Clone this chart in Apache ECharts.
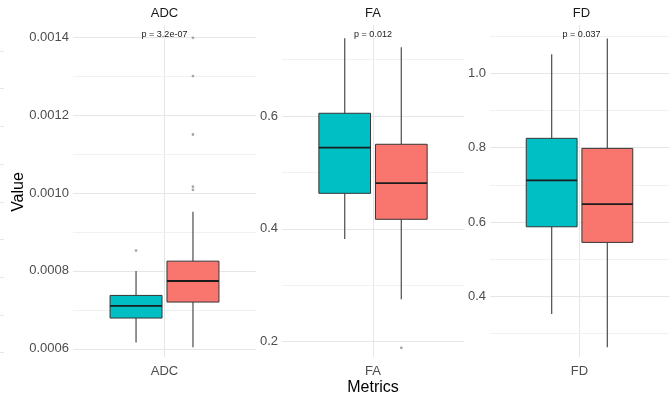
<!DOCTYPE html>
<html>
<head>
<meta charset="utf-8">
<script src="https://cdn.jsdelivr.net/npm/echarts@6/dist/echarts.min.js"></script>
<style>
  html, body { margin: 0; padding: 0; background: #ffffff; }
  #chart { width: 669px; height: 396px; }
</style>
</head>
<body>
<div id="chart"></div>
<script>
// ---- data ---------------------------------------------------------------
const metrics = ['ADC', 'FA', 'FD'];
const pLabels = ['p = 3.2e-07', 'p = 0.012', 'p = 0.037'];

// five-number summaries per group: [lower whisker, Q1, median, Q3, upper whisker]
const adcGroupA = [0.000616, 0.000679, 0.000710, 0.000737, 0.000800];
const adcGroupB = [0.000604, 0.000720, 0.000774, 0.000825, 0.000952];
const faGroupA  = [0.382, 0.463, 0.544, 0.605, 0.738];
const faGroupB  = [0.275, 0.417, 0.481, 0.550, 0.722];
const fdGroupA  = [0.352, 0.587, 0.712, 0.825, 1.051];
const fdGroupB  = [0.263, 0.545, 0.648, 0.798, 1.094];

// points beyond the whiskers
const adcOutA = [0.000852];
const adcOutB = [0.001398, 0.001300, 0.001150, 0.001016, 0.001008];
const faOutA  = [];
const faOutB  = [0.189];
const fdOutA  = [];
const fdOutB  = [];

// ---- layout & style -----------------------------------------------------
const boxesByPanel = [[adcGroupA, adcGroupB], [faGroupA, faGroupB], [fdGroupA, fdGroupB]];
const outliersByPanel = [[adcOutA, adcOutB], [faOutA, faOutB], [fdOutA, fdOutB]];
const groupColors = ['#00BFC4', '#F8766D'];

const panelLeft = [73, 282, 490];
const panelWidth = [183, 182, 183];
const panelTop = 25;
const panelHeight = 332;
const yRange = [[0.000579, 0.001431], [0.1728, 0.7615], [0.2366, 1.130]];
const ySplit = [4, 3, 4];        // gives major steps of 0.0002 / 0.2 / 0.2
const ySplitMinor = [8, 5, 8];   // gives minor steps of 0.0001 / 0.1 / 0.1
const yDecimals = [4, 1, 1];

const DODGE = 0.311;    // offset between the two boxes, as a share of the panel width
const BOX_W = 0.284;    // box width, as a share of the panel width
const FONT = '"Liberation Sans", Arial, Helvetica, sans-serif';
const GRID_MAJOR = '#e6e6e6';
const GRID_MINOR = '#f1f1f1';

function renderBox(params, api) {
  const g = api.value(1);
  const band = params.coordSys.width;
  const cx0 = api.coord([api.value(0), api.value(4)])[0];
  const cx = cx0 + (g - 0.5) * DODGE * band;
  const w = BOX_W * band;
  const yLo = api.coord([api.value(0), api.value(2)])[1];
  const yQ1 = api.coord([api.value(0), api.value(3)])[1];
  const yMed = api.coord([api.value(0), api.value(4)])[1];
  const yQ3 = api.coord([api.value(0), api.value(5)])[1];
  const yHi = api.coord([api.value(0), api.value(6)])[1];
  const whisker = { stroke: '#5a5a5a', lineWidth: 1.3 };
  return {
    type: 'group',
    children: [
      { type: 'line', shape: { x1: cx, y1: yHi, x2: cx, y2: yQ3 }, style: whisker },
      { type: 'line', shape: { x1: cx, y1: yQ1, x2: cx, y2: yLo }, style: whisker },
      { type: 'rect', shape: { x: cx - w / 2, y: yQ3, width: w, height: yQ1 - yQ3 },
        style: { fill: groupColors[g], stroke: '#363636', lineWidth: 1 } },
      { type: 'line', shape: { x1: cx - w / 2, y1: yMed, x2: cx + w / 2, y2: yMed },
        style: { stroke: '#1c1c1c', lineWidth: 1.8 } }
    ]
  };
}

function renderOutlier(params, api) {
  const g = api.value(1);
  const band = params.coordSys.width;
  const p = api.coord([api.value(0), api.value(2)]);
  return {
    type: 'circle',
    shape: { cx: p[0] + (g - 0.5) * DODGE * band, cy: p[1], r: 1.4 },
    style: { fill: '#a6a6a6' }
  };
}

const grids = [], xAxes = [], yAxes = [], series = [], graphics = [];

metrics.forEach((name, i) => {
  grids.push({ left: panelLeft[i], top: panelTop, width: panelWidth[i], height: panelHeight });

  // category axis carrying the metric label
  xAxes.push({
    type: 'category', gridIndex: i, data: [name],
    axisLine: { show: false }, axisTick: { show: false },
    axisLabel: { color: '#4d4d4d', fontSize: 13, fontFamily: FONT, margin: 8 },
    splitLine: { show: false }
  });

  // major y axis with labels
  yAxes.push({
    type: 'value', gridIndex: i, min: yRange[i][0], max: yRange[i][1], splitNumber: ySplit[i],
    axisLine: { show: false }, axisTick: { show: false },
    axisLabel: {
      color: '#4d4d4d', fontSize: 13, fontFamily: FONT, margin: 4,
      showMinLabel: false, showMaxLabel: false,
      formatter: v => v.toFixed(yDecimals[i])
    },
    splitLine: { show: true, showMinLine: false, showMaxLine: false,
                 lineStyle: { color: GRID_MAJOR, width: 1 } },
    z: 2
  });

  series.push({
    type: 'custom', xAxisIndex: i, yAxisIndex: i, renderItem: renderBox,
    encode: { x: 0, y: [2, 3, 4, 5, 6] },
    data: boxesByPanel[i].map((s, g) => [name, g].concat(s)),
    z: 5
  });

  const pts = [];
  outliersByPanel[i].forEach((list, g) => list.forEach(v => pts.push([name, g, v])));
  series.push({
    type: 'custom', xAxisIndex: i, yAxisIndex: i, renderItem: renderOutlier,
    encode: { x: 0, y: 2 }, data: pts, z: 6
  });

  const cx = panelLeft[i] + panelWidth[i] / 2;
  graphics.push({
    type: 'text', x: cx, y: 13.5,
    style: { text: name, fill: '#1a1a1a', font: '13px ' + FONT, align: 'center', verticalAlign: 'middle' }
  });
  graphics.push({
    type: 'text', x: cx, y: 35, z: 10,
    style: { text: pLabels[i], fill: '#1a1a1a', font: '9px ' + FONT, align: 'center', verticalAlign: 'middle' }
  });
});

// secondary axes: vertical centre gridline and minor horizontal gridlines
metrics.forEach((name, i) => {
  xAxes.push({
    type: 'value', gridIndex: i, min: -1, max: 1, interval: 1,
    axisLine: { show: false }, axisTick: { show: false }, axisLabel: { show: false },
    splitLine: { show: true, showMinLine: false, showMaxLine: false,
                 lineStyle: { color: GRID_MAJOR, width: 1 } }
  });
  yAxes.push({
    type: 'value', gridIndex: i, min: yRange[i][0], max: yRange[i][1], splitNumber: ySplitMinor[i],
    axisLine: { show: false }, axisTick: { show: false }, axisLabel: { show: false },
    splitLine: { show: true, showMinLine: false, showMaxLine: false,
                 lineStyle: { color: GRID_MINOR, width: 1 } },
    z: 1
  });
});

// sliver of a neighbouring panel's gridlines at the far left edge
grids.push({ left: 0, top: panelTop, width: 4, height: panelHeight });
xAxes.push({ type: 'value', gridIndex: 3, min: 0, max: 1, show: false });
yAxes.push({
  type: 'value', gridIndex: 3, min: -0.115, max: 8.69, splitNumber: 8,
  axisLine: { show: false }, axisTick: { show: false }, axisLabel: { show: false },
  splitLine: { show: true, showMinLine: false, showMaxLine: false,
               lineStyle: { color: GRID_MAJOR, width: 1 } }
});

graphics.push({
  type: 'text', x: 18.5, y: 192, rotation: Math.PI / 2,
  style: { text: 'Value', fill: '#000000', font: '16px ' + FONT, align: 'center', verticalAlign: 'middle' }
});
graphics.push({
  type: 'text', x: 373, y: 388,
  style: { text: 'Metrics', fill: '#000000', font: '16px ' + FONT, align: 'center', verticalAlign: 'middle' }
});

const chart = echarts.init(document.getElementById('chart'), null, { renderer: 'canvas' });
chart.setOption({
  animation: false,
  backgroundColor: '#ffffff',
  grid: grids,
  xAxis: xAxes,
  yAxis: yAxes,
  series: series,
  graphic: graphics
});
</script>
</body>
</html>
